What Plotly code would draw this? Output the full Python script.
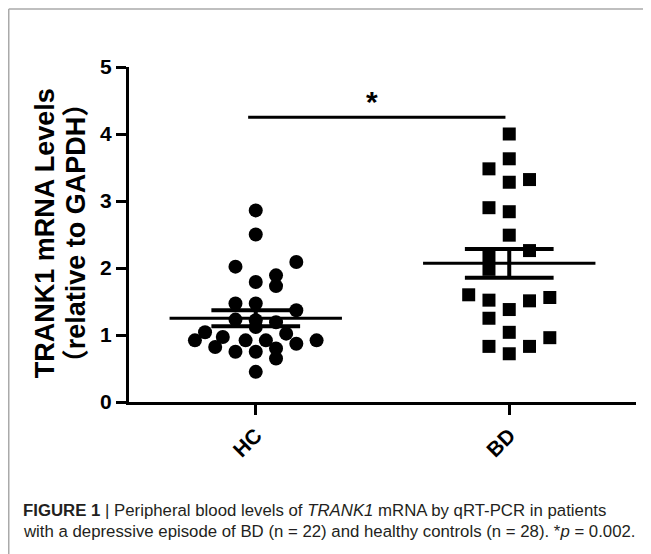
import plotly.graph_objects as go

# ---------------- data ----------------
categories = ["HC", "BD"]

hc_values = [2.86, 2.50, 2.02, 2.09, 1.89, 1.73, 1.79, 1.47, 1.47, 1.37,
             1.23, 1.22, 1.19, 1.12, 1.02, 1.04, 0.92, 0.97, 0.82, 0.92,
             0.92, 0.87, 0.92, 0.75, 0.75, 0.80, 0.65, 0.45]
# horizontal scatter offsets (dot-plot spread), in category units
hc_offsets = [0, 0, -0.08, 0.16, 0.08, 0.08, 0, -0.08, 0, 0.16,
              -0.08, 0, 0.08, 0, 0.12, -0.20, -0.24, -0.13, -0.16, -0.04,
              0.04, 0.16, 0.24, -0.08, 0, 0.08, 0.08, 0]

bd_values = [4.00, 3.63, 3.48, 3.28, 3.32, 2.90, 2.84, 2.49, 2.26, 2.18,
             1.98, 1.60, 1.52, 1.38, 1.51, 1.56, 1.25, 1.04, 0.83, 0.72,
             0.83, 0.96]
bd_offsets = [0, 0, -0.08, 0, 0.08, -0.08, 0, 0, 0.08, -0.08,
              -0.08, -0.16, -0.08, 0, 0.08, 0.16, -0.08, 0, -0.08, 0,
              0.08, 0.16]

group_means = [1.25, 2.07]
group_sems = [0.12, 0.215]

y_ticks = [0, 1, 2, 3, 4, 5]
sig_level = 4.25
sig_text = "*"

# ---------------- layout geometry ----------------
# the page body has an 8px margin; positions below are given in viewport px
OFF = 8
VW, VH = 651, 554
W, H = VW - OFF, VH - OFF
PLOT_LEFT, PLOT_RIGHT, PLOT_TOP, PLOT_BOTTOM = 129, 636, 66.7, 401.7
L = PLOT_LEFT - OFF
R = W - (PLOT_RIGHT - OFF)
T = PLOT_TOP - OFF
B = H - (PLOT_BOTTOM - OFF)
PW, PH = W - L - R, H - T - B


def px_x(vx):
    return (vx - OFF - L) / PW


def px_y(vy):
    return (H - B - (vy - OFF)) / PH


fig = go.Figure()

# points
fig.add_trace(go.Scatter(
    x=[0 + o for o in hc_offsets], y=hc_values, mode="markers",
    marker=dict(symbol="circle", size=14, color="black"),
    hoverinfo="y", showlegend=False))
fig.add_trace(go.Scatter(
    x=[1 + o for o in bd_offsets], y=bd_values, mode="markers",
    marker=dict(symbol="square", size=13, color="black"),
    hoverinfo="y", showlegend=False))

# mean +/- SEM
for i, (m, s) in enumerate(zip(group_means, group_sems)):
    fig.add_trace(go.Scatter(x=[i - 0.34, i + 0.34], y=[m, m], mode="lines",
                             line=dict(color="black", width=3),
                             hoverinfo="skip", showlegend=False))
    for v in (m - s, m + s):
        fig.add_trace(go.Scatter(x=[i - 0.175, i + 0.175], y=[v, v], mode="lines",
                                 line=dict(color="black", width=4),
                                 hoverinfo="skip", showlegend=False))
    fig.add_trace(go.Scatter(x=[i, i], y=[m - s, m + s], mode="lines",
                             line=dict(color="black", width=4),
                             hoverinfo="skip", showlegend=False))

# significance bar
fig.add_trace(go.Scatter(x=[-0.03, 0.985], y=[sig_level, sig_level], mode="lines",
                         line=dict(color="black", width=3),
                         hoverinfo="skip", showlegend=False))

annotations = [
    dict(x=0.46, y=sig_level - 0.045, xref="x", yref="y", text="<b>" + sig_text + "</b>",
         showarrow=False, yanchor="bottom",
         font=dict(family="Liberation Sans, Arial", size=30, color="black")),
    dict(x=px_x(45), y=px_y(233), xref="paper", yref="paper",
         text="<b>TRANK1 mRNA Levels</b>", textangle=-90, showarrow=False,
         xanchor="center", yanchor="middle",
         font=dict(family="Liberation Sans, Arial", size=27, color="black")),
    dict(x=px_x(76), y=px_y(233), xref="paper", yref="paper",
         text="<b>（relative to GAPDH）</b>", textangle=-90, showarrow=False,
         xanchor="center", yanchor="middle",
         font=dict(family="Liberation Sans, Noto Sans CJK SC, Arial", size=27, color="black")),
    dict(x=px_x(21), y=px_y(510), xref="paper", yref="paper",
         text="<b>FIGURE 1</b> | Peripheral blood levels of <i>TRANK1</i> mRNA by qRT-PCR in patients",
         showarrow=False, xanchor="left", yanchor="middle",
         font=dict(family="Liberation Sans, Arial", size=16.8, color="#231f20")),
    dict(x=px_x(21), y=px_y(531), xref="paper", yref="paper",
         text="with a depressive episode of BD (n = 22) and healthy controls (n = 28). *<i>p</i> = 0.002.",
         showarrow=False, xanchor="left", yanchor="middle",
         font=dict(family="Liberation Sans, Arial", size=16.8, color="#231f20")),
]

shapes = [
    dict(type="line", xref="paper", yref="paper", x0=px_x(8.75), x1=px_x(VW + 5),
         y0=px_y(8.75), y1=px_y(8.75), line=dict(color="#aaaaaa", width=1.5)),
    dict(type="line", xref="paper", yref="paper", x0=px_x(8.75), x1=px_x(8.75),
         y0=px_y(8.75), y1=px_y(VH + 5), line=dict(color="#aaaaaa", width=1.5)),
]

fig.update_layout(
    width=W, height=H,
    margin=dict(l=L, r=R, t=T, b=B, pad=0),
    paper_bgcolor="white", plot_bgcolor="white",
    showlegend=False,
    annotations=annotations, shapes=shapes,
    xaxis=dict(range=[-0.5, 1.5], tickmode="array", tickvals=[0, 1],
               ticktext=["<b>" + c + "</b>" for c in categories],
               tickangle=-45, ticks="outside", ticklen=10, tickwidth=3,
               tickcolor="black", showline=True, linewidth=3, linecolor="black",
               showgrid=False, zeroline=False,
               tickfont=dict(family="Liberation Sans, Arial", size=21, color="black")),
    yaxis=dict(range=[0, 5], tickmode="array", tickvals=y_ticks,
               ticktext=["<b>%d</b>" % t for t in y_ticks],
               ticks="outside", ticklen=10, tickwidth=3, tickcolor="black",
               showline=True, linewidth=3, linecolor="black",
               showgrid=False, zeroline=False,
               tickfont=dict(family="Liberation Sans, Arial", size=21, color="black")),
)

fig.write_html("out.html")
